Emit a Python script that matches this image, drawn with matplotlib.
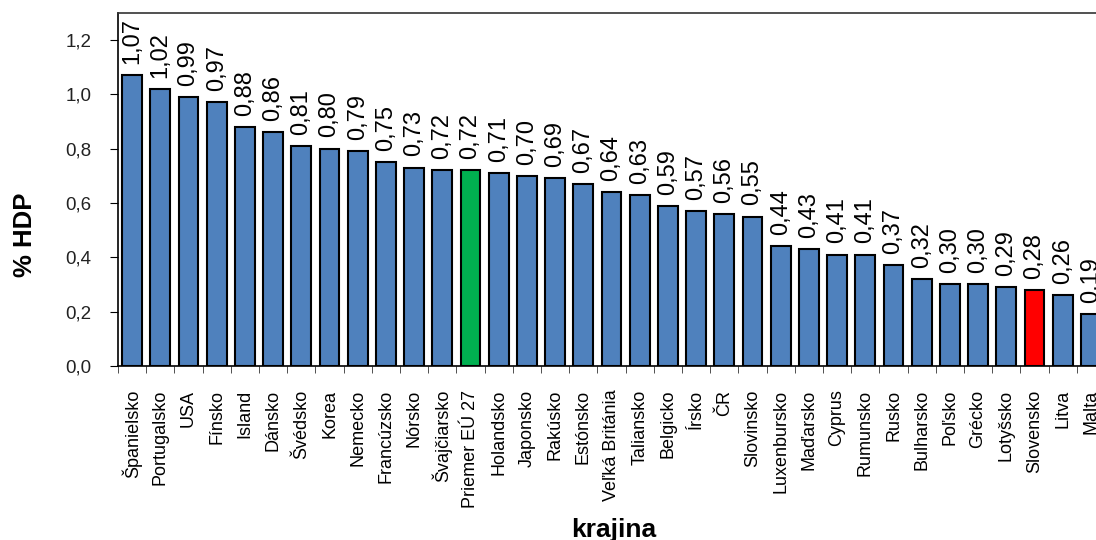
#Importando librerias
import matplotlib.pyplot as plt
import numpy as np

plt.rcParams['font.family'] = ['Liberation Sans', 'DejaVu Sans']

#Datos
krajiny = ['Španielsko', 'Portugalsko', 'USA', 'Fínsko', 'Island', 'Dánsko', 'Švédsko',
           'Korea', 'Nemecko', 'Francúzsko', 'Nórsko', 'Švajčiarsko', 'Priemer EÚ 27',
           'Holandsko', 'Japonsko', 'Rakúsko', 'Estónsko', 'Veľká Británia', 'Taliansko',
           'Belgicko', 'Írsko', 'ČR', 'Slovinsko', 'Luxenbursko', 'Maďarsko', 'Cyprus',
           'Rumunsko', 'Rusko', 'Bulharsko', 'Poľsko', 'Grécko', 'Lotyšsko', 'Slovensko',
           'Litva', 'Malta']
hodnoty = [1.07, 1.02, 0.99, 0.97, 0.88, 0.86, 0.81, 0.80, 0.79, 0.75, 0.73, 0.72, 0.72,
           0.71, 0.70, 0.69, 0.67, 0.64, 0.63, 0.59, 0.57, 0.56, 0.55, 0.44, 0.43, 0.41,
           0.41, 0.37, 0.32, 0.30, 0.30, 0.29, 0.28, 0.26, 0.19]

#Colores: priemer EU zelena, Slovensko cervena
farby = []
for k in krajiny:
    if k == 'Priemer EÚ 27':
        farby.append('#00B050')
    elif k == 'Slovensko':
        farby.append('#FF0000')
    else:
        farby.append('#4F81BD')

x = np.arange(len(krajiny))

fig = plt.figure(figsize=(10.96, 5.4), dpi=100)
#axes sa tahaju za pravy okraj obrazku (ako v originale)
ax = fig.add_axes([118/1096, 174/540, 987/1096, 353.3/540])

ax.bar(x, hodnoty, width=0.7, color=farby, edgecolor='black', linewidth=1.5, zorder=2)

#Popisky hodnot
for xi, h in zip(x, hodnoty):
    ax.annotate(('%.2f' % h).replace('.', ','), xy=(xi, h), xytext=(0, 8),
                textcoords='offset points', rotation=90, ha='center', va='bottom',
                fontsize=17, annotation_clip=False, clip_on=False)

ax.set_xlim(-0.5, len(krajiny) - 0.5)
ax.set_ylim(0, 1.3)

#Osi
ax.set_xticks(x)
ax.set_xticklabels(krajiny, rotation=90, fontsize=13)
ax.set_xticks(np.arange(-0.5, len(krajiny), 1), minor=True)
ax.tick_params(axis='x', which='major', length=0, pad=17)
ax.tick_params(axis='x', which='minor', length=5, direction='out', color='#333333')

yt = np.arange(0, 1.21, 0.2)
ax.set_yticks(yt)
ax.set_yticklabels([('%.1f' % v).replace('.', ',') for v in yt], fontsize=13.5, color='#222222')
ax.tick_params(axis='y', length=6, direction='out', pad=13)

for s in ax.spines.values():
    s.set_color('#333333')
    s.set_linewidth(1.2)
ax.spines['left'].set_color('black')
ax.spines['bottom'].set_color('black')

fig.text(25/1096, 1 - 235/540, '% HDP', rotation=90, ha='center', va='center',
         fontsize=18.5, fontweight='bold')
fig.text(614/1096, 1 - 537/540, 'krajina', ha='center', va='baseline',
         fontsize=19, fontweight='bold')

plt.savefig('out.png', dpi=100)
